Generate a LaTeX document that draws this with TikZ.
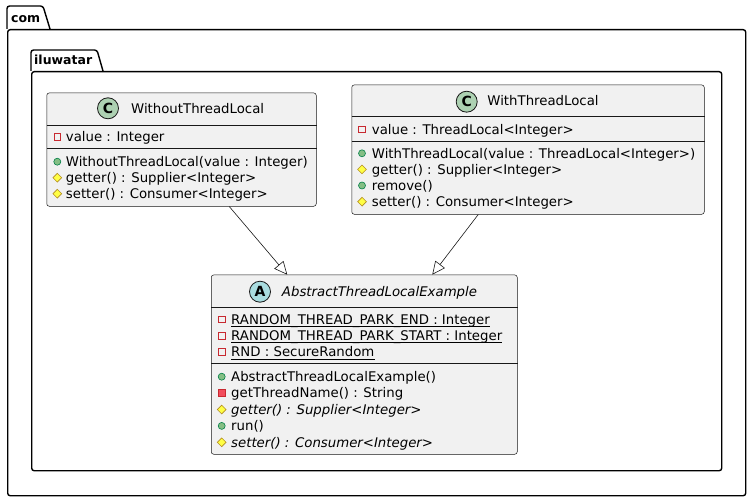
\documentclass[tikz,border=0pt]{standalone}
\usepackage{fontspec}
\setmainfont{DejaVu Sans}
\usepackage{tikz}
\usetikzlibrary{positioning,calc,arrows.meta,shapes.geometric}
\definecolor{boxgray}{HTML}{F1F1F1}
\definecolor{linegray}{HTML}{181818}
\definecolor{spotc}{HTML}{ADD1B2}
\definecolor{spota}{HTML}{A9DCDF}
\definecolor{privred}{HTML}{C82930}
\definecolor{privfill}{HTML}{F24D5C}
\definecolor{pubdark}{HTML}{038048}
\definecolor{publight}{HTML}{84BE84}
\definecolor{protdark}{HTML}{B38D22}
\definecolor{protlight}{HTML}{FFFF44}

\begin{document}
\begin{tikzpicture}[x=1pt,y=-1pt,
		pkg/.style={draw=black, line width=1.4pt, fill=white, rounded corners=2.5pt},
		pkglbl/.style={anchor=base west, inner sep=0pt, font=\fontsize{12.5}{14}\bfseries},
		cls/.style={rectangle, draw=linegray, fill=boxgray, line width=0.5pt, rounded corners=2.5pt, anchor=north west, inner sep=0pt},
		spot/.style={circle, draw=linegray, line width=0.8pt, minimum size=21pt, inner sep=0pt, font=\fontsize{14}{14}\bfseries},
		clsname/.style={anchor=base, inner sep=0pt, font=\fontsize{13.3}{16}\selectfont},
		mem/.style={anchor=base west, inner sep=0pt, font=\fontsize{13.3}{16}\selectfont},
		privf/.style={rectangle, draw=privred, line width=0.8pt, minimum size=6.5pt, inner sep=0pt},
		privm/.style={rectangle, draw=privred, fill=privfill, line width=0.6pt, minimum size=7pt, inner sep=0pt},
		pubm/.style={circle, draw=pubdark, fill=publight, line width=0.6pt, minimum size=7pt, inner sep=0pt},
		protm/.style={diamond, draw=protdark, fill=protlight, line width=0.6pt, minimum size=9pt, inner sep=0pt},
		sep/.style={draw=linegray, line width=0.5pt},
		ext/.style={draw=linegray, line width=0.6pt, -{Triangle[open,length=13pt,width=12pt]}}]
		\useasboundingbox (0,0) rectangle (751,500);
		
		\draw[pkg] (7,29) -- (7,6) -- (43,6) -- (50,29);
		\node[pkg, rectangle, anchor=north west, minimum width=738pt, minimum height=466pt, inner sep=0pt] (com) at (7,29) {};
		\node[pkglbl] (comlbl) at (11,23) {com};
		\draw[pkg] (31,71) -- (31,50) -- (97,50) -- (103,71);
		\node[pkg, rectangle, anchor=north west, minimum width=690pt, minimum height=399pt, inner sep=0pt] (ilu) at (31,71) {};
		\node[pkglbl] (ilulbl) at (34,65) {iluwatar};
		
		\node[cls, minimum width=269.5pt, minimum height=113.3pt] (wotl) at (46.5,92.7) {};
		\node[cls, minimum width=352.5pt, minimum height=129.3pt] (wtl) at (351.5,84.7) {};
		\node[cls, minimum width=306pt, minimum height=179.3pt] (atle) at (211,274.7) {};
		
		\draw[sep] ([yshift=-32.3pt]wotl.north west) -- ([yshift=-32.3pt]wotl.north east);
		\draw[sep] ([yshift=-55.6pt]wotl.north west) -- ([yshift=-55.6pt]wotl.north east);
		\draw[sep] ([yshift=-32pt]wtl.north west) -- ([yshift=-32pt]wtl.north east);
		\draw[sep] ([yshift=-56.3pt]wtl.north west) -- ([yshift=-56.3pt]wtl.north east);
		\draw[sep] ([yshift=-32.6pt]atle.north west) -- ([yshift=-32.6pt]atle.north east);
		\draw[sep] ([yshift=-88.6pt]atle.north west) -- ([yshift=-88.6pt]atle.north east);
		
		\node[spot, fill=spotc] (wotlspot) at (108,108.3) {C};
		\node[clsname] (wotlname) at (197.6,113.4) {WithoutThreadLocal};
		\node[spot, fill=spotc] (wtlspot) at (466.7,101.7) {C};
		\node[clsname] (wtlname) at (543,106) {WithThreadLocal};
		\node[spot, fill=spota] (atlespot) at (260,291.7) {A};
		\node[clsname, font=\fontsize{13.3}{16}\itshape] (atlename) at (379.5,296.2) {AbstractThreadLocalExample};
		
		\foreach \ico/\yy/\txt [count=\i] in {privf/137/{value : Integer}, pubm/161.7/{WithoutThreadLocal(value : Integer)}, protm/177.7/{getter() : Supplier<Integer>}, protm/193.7/{setter() : Consumer<Integer>}}{
			\node[\ico] (wotli\i) at (57.3,\yy) {};
			\node[mem] (wotlm\i) at (65.7,\yy+4.7) {\txt};
		}
		\foreach \ico/\yy/\txt [count=\i] in {privf/129.3/{value : ThreadLocal<Integer>}, pubm/153.3/{WithThreadLocal(value : ThreadLocal<Integer>)}, protm/169.4/{getter() : Supplier<Integer>}, pubm/185.5/{remove()}, protm/201.7/{setter() : Consumer<Integer>}}{
			\node[\ico] (wtli\i) at (362,\yy) {};
			\node[mem] (wtlm\i) at (371.7,\yy+4.7) {\txt};
		}
		\foreach \ico/\yy/\txt [count=\i] in {privf/319.3/{RANDOM\_THREAD\_PARK\_END : Integer}, privf/335.7/{RANDOM\_THREAD\_PARK\_START : Integer}, privf/352.1/{RND : SecureRandom}, pubm/376.7/{AbstractThreadLocalExample()}, privm/393.1/{getThreadName() : String}, protm/409.5/{\itshape getter() : Supplier<Integer>}, pubm/425.9/{run()}, protm/442.3/{\itshape setter() : Consumer<Integer>}}{
			\node[\ico] (atlei\i) at (221.7,\yy) {};
			\node[mem] (atlem\i) at (231,\yy+4.7) {\txt};
		}
		\foreach \i in {1,2,3}
			\draw[black, line width=0.7pt] ([yshift=-2.3pt]atlem\i.base west) -- ([yshift=-2.3pt]atlem\i.base east);
		
		\draw[ext] ([xshift=47.75pt]wotl.south) -- ([xshift=-77pt]atle.north);
		\draw[ext] ([xshift=-49.75pt]wtl.south) -- ([xshift=68pt]atle.north);
	\end{tikzpicture}
\end{document}
